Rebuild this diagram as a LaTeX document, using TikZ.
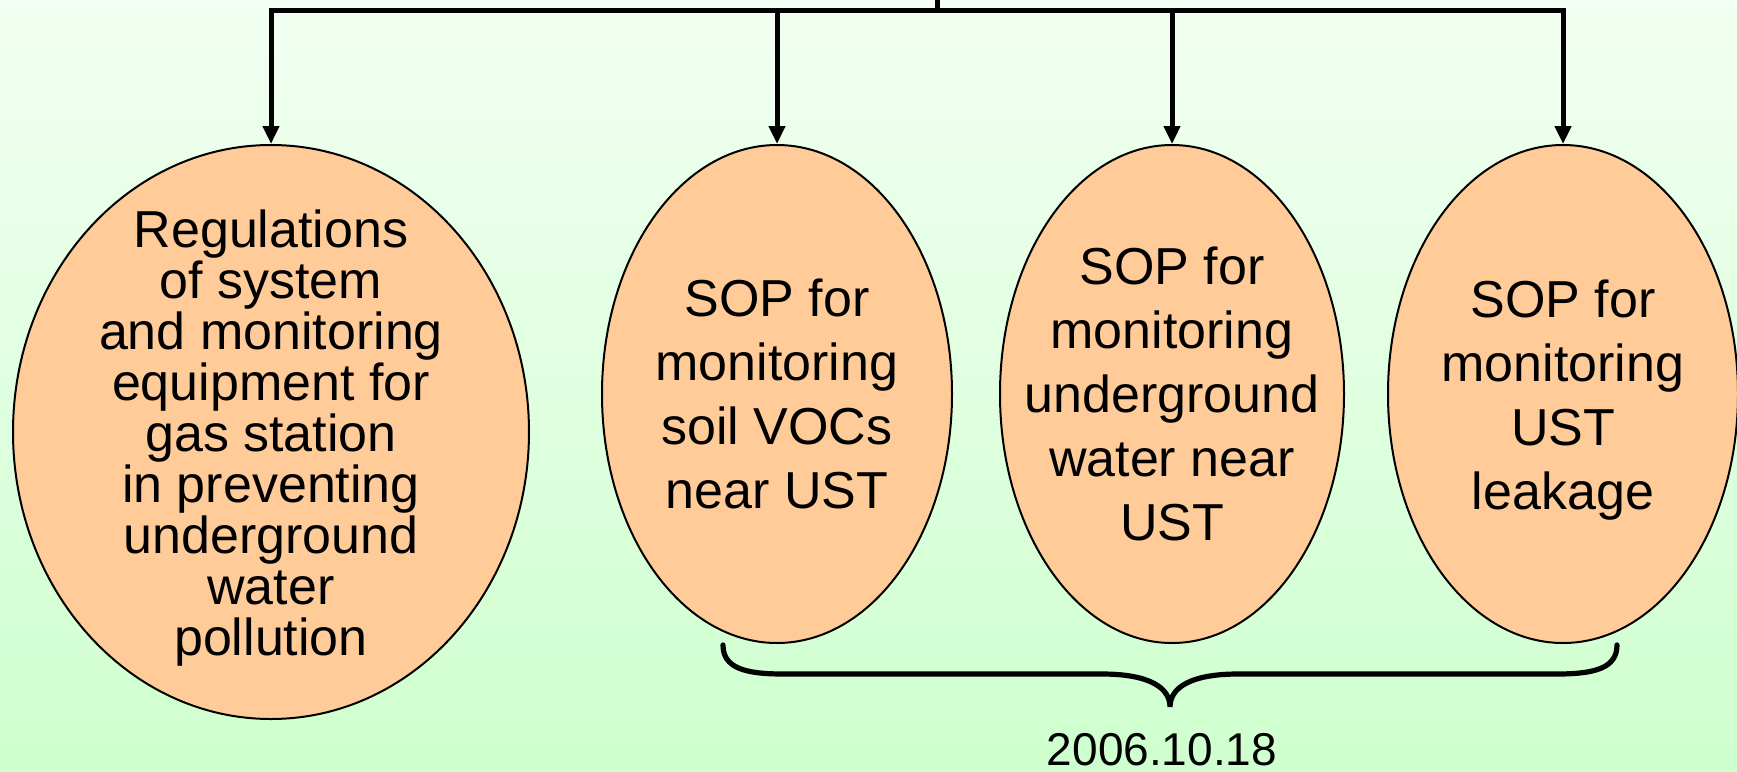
\documentclass[tikz,border=0pt]{standalone}
\usepackage{fontspec}
\setmainfont{Liberation Sans}
\usetikzlibrary{arrows.meta,shapes.geometric}
\definecolor{peach}{RGB}{255,204,153}
\definecolor{mintlight}{RGB}{242,255,242}
\definecolor{mintdark}{RGB}{206,255,206}
\tikzset{
  oval/.style={ellipse,draw,fill=peach,line width=1pt,inner sep=0pt},
  ovaltext/.style={align=center,font=\fontsize{26}{32}\selectfont},
  link/.style={line width=2.5pt,-{Triangle[length=9pt,width=8pt]}},
  bracepath/.style={line width=2.6pt,line cap=round},
}

\begin{document}
\begin{tikzpicture}[x=0.5pt,y=-0.5pt]
  \shade[top color=mintlight,bottom color=mintdark] (0,0) rectangle (1737,772);
  \useasboundingbox (0,0) rectangle (1737,772);
  % the four ovals
  \node[oval,minimum width=258pt,minimum height=287pt] (reg) at (271,432) {};
  \node[oval,minimum width=175pt,minimum height=249pt] (soil) at (777,394) {};
  \node[oval,minimum width=172pt,minimum height=249pt] (water) at (1172,394) {};
  \node[oval,minimum width=175pt,minimum height=249pt] (leak) at (1563,394) {};
  \node[ovaltext,font=\fontsize{26}{25.5}\selectfont,yshift=-3pt] (regtxt) at (reg)
    {Regulations\\of system\\and monitoring\\equipment for\\gas station\\in preventing\\underground\\water\\pollution};
  \node[ovaltext] (soiltxt) at (soil) {SOP for\\monitoring\\soil VOCs\\near UST};
  \node[ovaltext] (watertxt) at (water) {SOP for\\monitoring\\underground\\water near\\UST};
  \node[ovaltext,yshift=-3pt] (leaktxt) at (leak) {SOP for\\monitoring\\UST\\leakage};
  % feed from the top
  \coordinate (top) at (937,0);
  \coordinate (hub) at (937,10);
  \draw[line width=2.5pt] (top) -- (hub);
  \foreach \n in {reg,soil,water,leak}
    \draw[link] (hub) -| (\n.north);
  % brace under the SOPs
  \coordinate (bl) at (723,645);
  \coordinate (br) at (1617,645);
  \coordinate (tip) at (1170,707);
  \draw[bracepath] (bl) .. controls (723,668) and (745,674) .. (783,674) -- (1102,674)
    .. controls (1150,674) and (1170,688) .. (tip)
    .. controls (1170,688) and (1190,674) .. (1238,674) -- (1557,674)
    .. controls (1595,674) and (1617,668) .. (br);
  \node[font=\fontsize{23}{27}\selectfont,anchor=base] (date) at (1162,765) {2006.10.18};
\end{tikzpicture}
\end{document}
